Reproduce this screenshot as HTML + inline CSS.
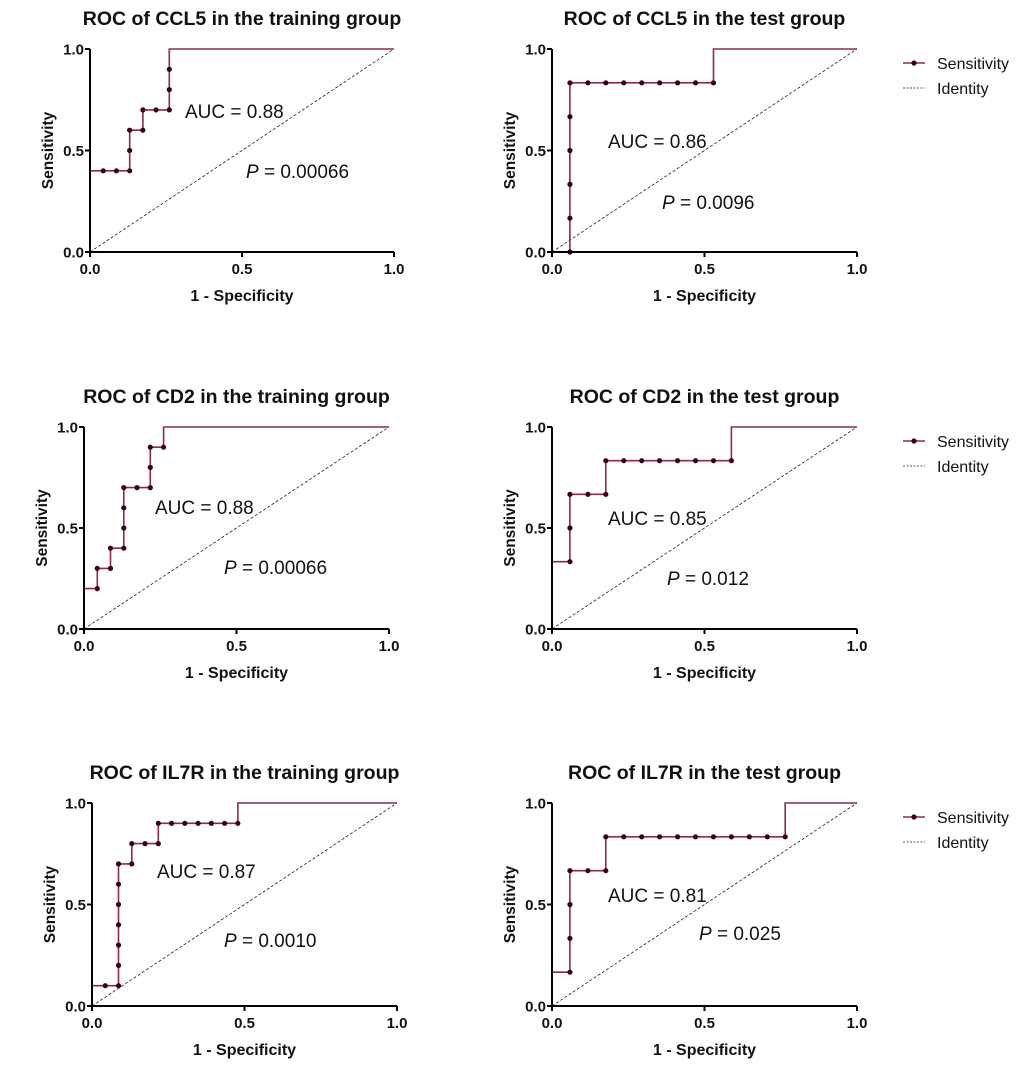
<!DOCTYPE html>
<html><head><meta charset="utf-8"><style>
html,body{margin:0;padding:0;background:#fff;}
svg{display:block;font-family:"Liberation Sans",Arial,sans-serif;}
</style></head><body>
<svg id="fig" width="1020" height="1068" viewBox="0 0 1020 1068"></svg>
<script>
const T = 1/23, S = 1/17, Q = 1/6;
// CCL5 training
const ccl5TrainFpr = [0,0,T,2*T,3*T,3*T,3*T,4*T,4*T,5*T,6*T,6*T,6*T,6*T,1];
const ccl5TrainTpr = [0,0.4,0.4,0.4,0.4,0.5,0.6,0.6,0.7,0.7,0.7,0.8,0.9,1,1];
// CCL5 test
const ccl5TestFpr = [0,S,S,S,S,S,S,2*S,3*S,4*S,5*S,6*S,7*S,8*S,9*S,9*S,1];
const ccl5TestTpr = [0,0,Q,2*Q,3*Q,4*Q,5*Q,5*Q,5*Q,5*Q,5*Q,5*Q,5*Q,5*Q,5*Q,1,1];
// CD2 training
const cd2TrainFpr = [0,0,T,T,2*T,2*T,3*T,3*T,3*T,3*T,4*T,5*T,5*T,5*T,6*T,6*T,1];
const cd2TrainTpr = [0,0.2,0.2,0.3,0.3,0.4,0.4,0.5,0.6,0.7,0.7,0.7,0.8,0.9,0.9,1,1];
// CD2 test
const cd2TestFpr = [0,0,S,S,S,2*S,3*S,3*S,4*S,5*S,6*S,7*S,8*S,9*S,10*S,10*S,1];
const cd2TestTpr = [0,2*Q,2*Q,3*Q,4*Q,4*Q,4*Q,5*Q,5*Q,5*Q,5*Q,5*Q,5*Q,5*Q,5*Q,1,1];
// IL7R training
const il7rTrainFpr = [0,0,T,2*T,2*T,2*T,2*T,2*T,2*T,2*T,3*T,3*T,4*T,5*T,5*T,6*T,7*T,8*T,9*T,10*T,11*T,11*T,1];
const il7rTrainTpr = [0,0.1,0.1,0.1,0.2,0.3,0.4,0.5,0.6,0.7,0.7,0.8,0.8,0.8,0.9,0.9,0.9,0.9,0.9,0.9,0.9,1,1];
// IL7R test
const il7rTestFpr = [0,0,S,S,S,S,2*S,3*S,3*S,4*S,5*S,6*S,7*S,8*S,9*S,10*S,11*S,12*S,13*S,13*S,1];
const il7rTestTpr = [0,Q,Q,2*Q,3*Q,4*Q,4*Q,4*Q,5*Q,5*Q,5*Q,5*Q,5*Q,5*Q,5*Q,5*Q,5*Q,5*Q,5*Q,1,1];
const tickVals = [0,0.5,1];
const tickLabels = ["0.0","0.5","1.0"];

const panels = [
 {name:"ccl5-training",title:"ROC of CCL5 in the training group",fpr:ccl5TrainFpr,tpr:ccl5TrainTpr,x0:90,x1:394,y0:252,y1:49,auc:"AUC = 0.88",ax:185,ay:118,p:"0.00066",px:246,py:178,legend:false},
 {name:"ccl5-test",title:"ROC of CCL5 in the test group",fpr:ccl5TestFpr,tpr:ccl5TestTpr,x0:552,x1:857,y0:252,y1:49,auc:"AUC = 0.86",ax:608,ay:148,p:"0.0096",px:662,py:209,legend:true,ly:63},
 {name:"cd2-training",title:"ROC of CD2 in the training group",fpr:cd2TrainFpr,tpr:cd2TrainTpr,x0:84,x1:389,y0:629,y1:427,auc:"AUC = 0.88",ax:155,ay:514,p:"0.00066",px:224,py:574,legend:false},
 {name:"cd2-test",title:"ROC of CD2 in the test group",fpr:cd2TestFpr,tpr:cd2TestTpr,x0:552,x1:857,y0:629,y1:427,auc:"AUC = 0.85",ax:608,ay:525,p:"0.012",px:667,py:585,legend:true,ly:441},
 {name:"il7r-training",title:"ROC of IL7R in the training group",fpr:il7rTrainFpr,tpr:il7rTrainTpr,x0:92,x1:397,y0:1006,y1:803,auc:"AUC = 0.87",ax:157,ay:878,p:"0.0010",px:224,py:947,legend:false},
 {name:"il7r-test",title:"ROC of IL7R in the test group",fpr:il7rTestFpr,tpr:il7rTestTpr,x0:552,x1:857,y0:1006,y1:803,auc:"AUC = 0.81",ax:608,ay:902,p:"0.025",px:699,py:940,legend:true,ly:817}
];
const NS="http://www.w3.org/2000/svg";
const svg=document.getElementById('fig');
function mk(tag,attrs,parent,text){const e=document.createElementNS(NS,tag);for(const k in attrs)e.setAttribute(k,attrs[k]);if(text!==undefined)e.textContent=text;parent.appendChild(e);return e;}
const LINE="#8b2a4e", DOT="#3a0012";
panels.forEach(pn=>{
  const g=mk('g',{},svg);
  
  
  const xs=v=>pn.x0+v*(pn.x1-pn.x0);
  const ys=v=>pn.y0+v*(pn.y1-pn.y0);
  const cx=(pn.x0+pn.x1)/2, cy=(pn.y0+pn.y1)/2;
  const t=mk('text',{x:cx,y:pn.y1-24,'text-anchor':'middle','font-size':19.5,'font-weight':'bold',fill:'#111'},g,pn.title);
  
  
  const id=mk('line',{x1:xs(0),y1:ys(0),x2:xs(1),y2:ys(1),stroke:'#222','stroke-width':0.8,'stroke-dasharray':'3,2'},g);
  
  
  const pts=pn.fpr.map((f,i)=>xs(f).toFixed(1)+','+ys(pn.tpr[i]).toFixed(1)).join(' ');
  const pl=mk('polyline',{points:pts,fill:'none',stroke:LINE,'stroke-width':1.6},g);
  
  
  pn.fpr.forEach((f,i)=>{
    if(f>0 && pn.tpr[i]<1 && f<1){
      const c=mk('circle',{cx:xs(f),cy:ys(pn.tpr[i]),r:2.6,fill:DOT},g);
      
      
    }
  });
  const xa=mk('line',{x1:pn.x0-1,y1:pn.y0,x2:pn.x1,y2:pn.y0,stroke:'#000','stroke-width':2},g);
  
  
  const ya=mk('line',{x1:pn.x0,y1:pn.y0+1,x2:pn.x0,y2:pn.y1,stroke:'#000','stroke-width':2},g);
  
  
  tickVals.forEach((v,i)=>{
    mk('line',{x1:xs(v),y1:pn.y0,x2:xs(v),y2:pn.y0+5,stroke:'#000','stroke-width':2},g);
    mk('line',{x1:pn.x0-5,y1:ys(v),x2:pn.x0,y2:ys(v),stroke:'#000','stroke-width':2},g);
    const xl=mk('text',{x:xs(v),y:pn.y0+22,'text-anchor':'middle','font-size':15,'font-weight':'bold',fill:'#111'},g,tickLabels[i]);
    
    
    const yl=mk('text',{x:pn.x0-6,y:ys(v)+5.5,'text-anchor':'end','font-size':15,'font-weight':'bold',fill:'#111'},g,tickLabels[i]);
    
    
  });
  const xt=mk('text',{x:cx,y:pn.y0+49,'text-anchor':'middle','font-size':16,'font-weight':'bold',fill:'#111'},g,'1 - Specificity');
  
  
  const yt=mk('text',{x:pn.x0-37,y:cy,'text-anchor':'middle','font-size':15.5,'font-weight':'bold',fill:'#111',transform:`rotate(-90 ${pn.x0-37} ${cy})`},g,'Sensitivity');
  
  
  const at=mk('text',{x:pn.ax,y:pn.ay,'font-size':19,fill:'#111'},g,pn.auc);
  
  
  const pt=mk('text',{x:pn.px,y:pn.py,'font-size':19,fill:'#111'},g);
  
  
  mk('tspan',{'font-style':'italic'},pt,'P');
  mk('tspan',{},pt,' = '+pn.p);
  if(pn.legend){
    const lg=mk('g',{},g);
    
    
    const e1=mk('g',{},lg);
    
    
    mk('line',{x1:903,y1:pn.ly,x2:925,y2:pn.ly,stroke:LINE,'stroke-width':1.6},e1);
    mk('circle',{cx:914,cy:pn.ly,r:2.6,fill:DOT},e1);
    mk('text',{x:937,y:pn.ly+6,'font-size':16,fill:'#111'},e1,'Sensitivity');
    const e2=mk('g',{},lg);
    
    
    mk('line',{x1:903,y1:pn.ly+25,x2:925,y2:pn.ly+25,stroke:'#222','stroke-width':0.8,'stroke-dasharray':'2,1.5'},e2);
    mk('text',{x:937,y:pn.ly+31,'font-size':16,fill:'#111'},e2,'Identity');
  }
});
</script>
</body></html>
